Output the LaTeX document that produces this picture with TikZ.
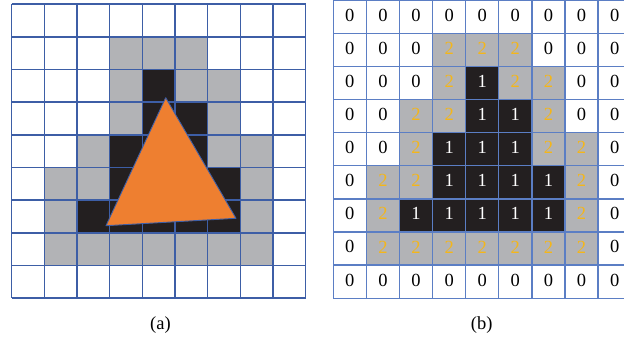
\documentclass[tikz,border=0pt]{standalone}
\usepackage{tikz}
\usepackage{fontspec}
\setmainfont{Liberation Serif}
\usetikzlibrary{positioning}
\definecolor{gridline}{HTML}{3D5EA6}
\definecolor{gridlight}{HTML}{5B7EC4}
\definecolor{cellgray}{HTML}{B2B3B6}
\definecolor{cellblack}{HTML}{231F20}
\definecolor{tri}{HTML}{EE7F30}
\definecolor{two}{HTML}{F4B61A}

\begin{document}
\begin{tikzpicture}[x=1pt,y=-1pt,font=\fontsize{18.5}{20}\selectfont]
  \useasboundingbox (0,0) rectangle (624,343);
  \clip (0,0) rectangle (624,343);
  % (a) cells and grid
  \begin{scope}[shift={(11.7pt,-4.2pt)},x=32.67pt,y=-32.67pt]
    \foreach \c/\r in {3/1,4/1,5/1,3/2,5/2,6/2,3/3,6/3,2/4,6/4,7/4,1/5,2/5,7/5,1/6,7/6,
                       1/7,2/7,3/7,4/7,5/7,6/7,7/7}
      \fill[cellgray] (\c,\r) rectangle (\c+1,\r+1);
    \foreach \c/\r in {4/2,4/3,5/3,3/4,4/4,5/4,3/5,4/5,5/5,6/5,2/6,3/6,4/6,5/6,6/6}
      \fill[cellblack] (\c,\r) rectangle (\c+1,\r+1);
    \foreach \i in {0,...,9}{
      \draw[gridline,line width=1.5pt] (\i,0) -- (\i,9);
      \draw[gridline,line width=1.5pt] (0,\i) -- (9,\i);
    }
  \end{scope}
  \coordinate (apex) at (165.7,97.7);
  \coordinate (left) at (106,225.7);
  \coordinate (right) at (236,218.3);
  \filldraw[fill=tri,draw=gridline,line width=0.9pt,line join=round]
    (apex) -- (left) -- (right) -- cycle;
  % (b) labelled cells
  \begin{scope}[shift={(333.3pt,-0.3pt)},x=33.1pt,y=-33.1pt]
    \foreach \row [count=\r from 0] in {
        {0,0,0,0,0,0,0,0,0},
        {0,0,0,2,2,2,0,0,0},
        {0,0,0,2,1,2,2,0,0},
        {0,0,2,2,1,1,2,0,0},
        {0,0,2,1,1,1,2,2,0},
        {0,2,2,1,1,1,1,2,0},
        {0,2,1,1,1,1,1,2,0},
        {0,2,2,2,2,2,2,2,0},
        {0,0,0,0,0,0,0,0,0}}{
      \foreach \v [count=\c from 0] in \row {
        \ifcase\v
          \node (b-\r-\c) at (\c+0.5,\r+0.45) {0};
        \or
          \fill[cellblack] (\c,\r) rectangle (\c+1,\r+1);
          \node[text=white] (b-\r-\c) at (\c+0.5,\r+0.45) {1};
        \or
          \fill[cellgray] (\c,\r) rectangle (\c+1,\r+1);
          \node[text=two] (b-\r-\c) at (\c+0.5,\r+0.45) {2};
        \fi
      }
    }
    \foreach \i in {0,...,9}{
      \draw[gridlight,line width=1.3pt] (\i,0) -- (\i,9);
      \draw[gridlight,line width=1.3pt] (0,\i) -- (9,\i);
    }
  \end{scope}
  \node (labela) at (160.5,325) {(a)};
  \node (labelb) at (481.7,325) {(b)};
\end{tikzpicture}
\end{document}
